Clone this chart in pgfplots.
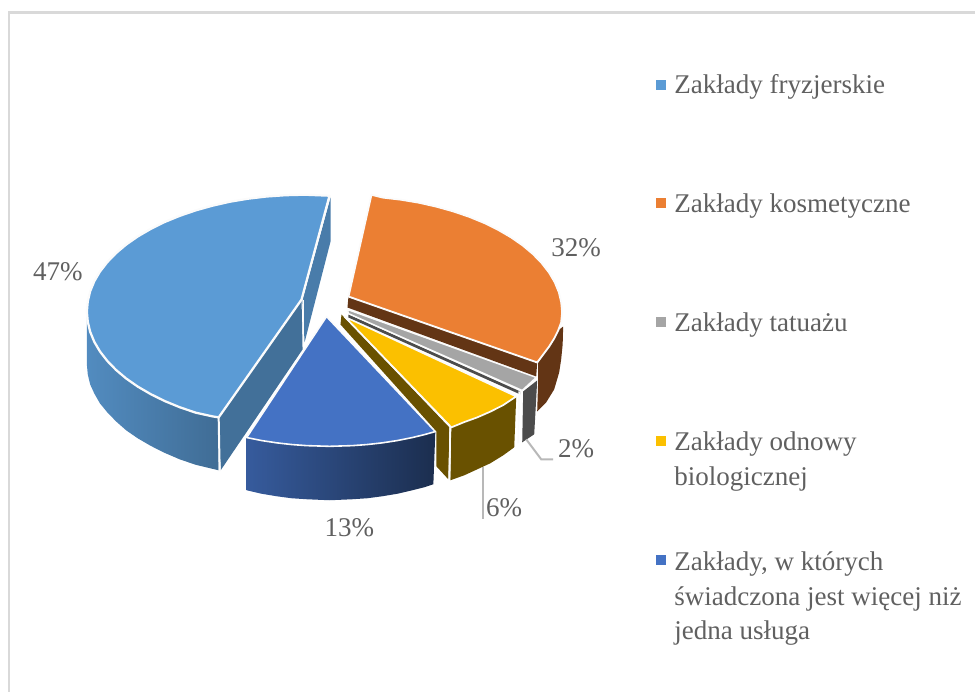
\documentclass[border=0pt]{standalone}
\usepackage{fontspec}
\setmainfont{Liberation Serif}
\usepackage{pgfplots}
\pgfplotsset{compat=1.18}
\definecolor{txt}{HTML}{606060}
\definecolor{bl}{HTML}{5B9BD5}
\definecolor{or}{HTML}{EB7F33}
\definecolor{gy}{HTML}{A5A5A5}
\definecolor{ye}{HTML}{FBC000}
\definecolor{db}{HTML}{4472C4}
\definecolor{edge}{HTML}{FBFBFB}
\tikzset{lab/.style={font=\fontsize{20.3pt}{23pt}\selectfont,text=txt,inner sep=0pt,anchor=base west},
 num/.style={font=\fontsize{20.3pt}{23pt}\selectfont,text=txt,inner sep=0pt,anchor=center},
 face/.style={draw=edge,line width=1.7pt,line join=round},
 wall/.style={draw=none,line join=round}}
\begin{document}
\begin{tikzpicture}
\begin{axis}[scale only axis,width=732pt,height=519.75pt,xmin=0,xmax=976,ymin=0,ymax=693,
 y dir=reverse,hide axis,clip=false]
\path (axis cs:0,0) rectangle (axis cs:976,693);
% frame
\addplot[color=black!15,line width=2.2pt] coordinates {(9,693)(9,12.5)(976,12.5)};
% blue (47%)
\addplot[wall,left color=bl!90!black,right color=bl!70!black] coordinates {(87,312)(87,365)(87.9,375)(90.3,385)(94.4,394)(100.1,404)(107.5,413)(116.2,422)(126.4,431)(138,439)(150.9,446.5)(164.8,453.5)(179.9,460)(196,465.5)(219,471)(219,418)(196,413.3)(164.8,401.6)(138,387.2)(116.2,370.5)(100.1,352)(90.3,332.3)} -- cycle;
\addplot[wall,fill=bl!72!black] coordinates {(219,418)(302,300)(303,350)(221,471)} -- cycle;
\addplot[wall,fill=bl!80!black] coordinates {(331,198)(331,242)(305,343)(303,300)} -- cycle;
\addplot[draw=edge,line width=1.5pt] coordinates {(219,418)(220,472)};
\addplot[draw=edge,line width=1.3pt] coordinates {(304,300)(304,345)};
\addplot[face,fill=bl] coordinates {(330,196)(305,195)(286,195.5)(267,196.8)(248.5,199)(230.4,202)(212.8,206)(196,210.7)(179.9,216.2)(164.8,222.4)(150.9,229.3)(138,236.8)(126.4,244.9)(116.2,253.5)(107.5,262.5)(100.1,272)(94.4,281.7)(90.3,291.7)(87.9,301.8)(87,312)(87.9,322.2)(90.3,332.3)(94.4,342.3)(100.1,352)(107.5,361.5)(116.2,370.5)(126.4,379.1)(138,387.2)(150.9,394.7)(164.8,401.6)(179.9,407.8)(196,413.3)(212.8,417)(219,418)(302,300)} -- cycle;
% dark blue (13%)
\addplot[wall,left color=db!80!black,right color=db!40!black] coordinates {(247,438)(247,491)(262,494.5)(277,497)(292,499)(307,500)(330,501)(353,500)(368,499)(383,497)(398,494.5)(413,491)(425,488)(434,485)(436,432)} -- cycle;
\addplot[face,fill=db,line width=1.2pt] coordinates {(327,317)(247,438.2)(262,441.2)(277,443.5)(292,445.2)(307,446.3)(330,447)(353,446.3)(368,445.2)(383,443.5)(398,441.2)(413,438.2)(425,435.3)(436,432.2)} -- cycle;
% yellow (6%)
\addplot[wall,fill=ye!42!black] coordinates {(342,315)(450,428)(449,480)(437,467)(437,432)(341,325)} -- cycle;
\addplot[wall,fill=ye!42!black] coordinates {(452,428)(465,422.7)(478,418)(491,412.3)(504,405.7)(517,397)(515,448)(504,456)(491,464)(478,470)(465,476)(451,481)} -- cycle;
\addplot[draw=edge,line width=1.3pt] coordinates {(451,428)(450,481)};
\addplot[face,fill=ye,line width=1.3pt] coordinates {(345,317)(452,428)(465,422.7)(478,418)(491,412.3)(504,405.7)(517,397)} -- cycle;
% gray (2%)
\addplot[wall,fill=black!70] coordinates {(524,392)(538,381)(535,435)(523,443)} -- cycle;
\addplot[wall,fill=black!70] coordinates {(349,315)(521,392)(521,395)(349,318)} -- cycle;
\addplot[draw=edge,line width=1.3pt] coordinates {(520,392)(519,444)};
\addplot[face,fill=gy,line width=1pt] coordinates {(348,310)(537,378)(523,391)(349,314)} -- cycle;
% orange (32%)
\addplot[wall,fill=or!42!black] coordinates {(349,297)(538,363)(537,377)(348,308)} -- cycle;
\addplot[wall,fill=or!42!black] coordinates {(539,363)(550,347)(555,339)(559,331)(564,327)(563.5,345)(562,360)(560,373)(555,390)(547,403)(538,412)(539,380)} -- cycle;
\addplot[face,fill=or,line width=1.4pt] coordinates {(372,195)(382.9,197.8)(401.5,200)(419.6,203)(437.2,207)(454,211.7)(470.1,217.2)(485.2,223.4)(499.1,230.3)(512,237.8)(523.6,245.9)(533.8,254.5)(542.5,263.5)(549.9,273)(555.6,282.7)(559.7,292.7)(562.1,302.8)(563,313)(562,323)(559,331)(555,339)(550,347)(544,355)(538,363)(349,297)} -- cycle;
% leaders
\addplot[color=black!28,line width=1.5pt] coordinates {(527,440)(542,460)(554,460)};
\addplot[color=black!28,line width=1.5pt] coordinates {(484,468)(484,520)};
% value labels
\node[num] at (axis cs:58,272) {47\%};
\node[num] at (axis cs:577,248) {32\%};
\node[num] at (axis cs:577,449) {2\%};
\node[num] at (axis cs:505,508) {6\%};
\node[num] at (axis cs:350,528) {13\%};
% legend
\addplot[draw=none,fill=bl] coordinates {(657,80)(667,80)(667,90)(657,90)} -- cycle;
\addplot[draw=none,fill=or] coordinates {(657,198)(667,198)(667,208)(657,208)} -- cycle;
\addplot[draw=none,fill=gy] coordinates {(657,317)(667,317)(667,327)(657,327)} -- cycle;
\addplot[draw=none,fill=ye] coordinates {(657,437)(667,437)(667,447)(657,447)} -- cycle;
\addplot[draw=none,fill=db] coordinates {(657,556)(667,556)(667,566)(657,566)} -- cycle;
\node[lab] at (axis cs:675,94) {Zakłady fryzjerskie};
\node[lab] at (axis cs:675,213) {Zakłady kosmetyczne};
\node[lab] at (axis cs:675,332) {Zakłady tatuażu};
\node[lab] at (axis cs:675,451) {Zakłady odnowy};
\node[lab] at (axis cs:675,486) {biologicznej};
\node[lab] at (axis cs:675,571) {Zakłady, w których};
\node[lab] at (axis cs:675,606) {świadczona jest więcej niż};
\node[lab] at (axis cs:675,640) {jedna usługa};
\end{axis}
\end{tikzpicture}
\end{document}
